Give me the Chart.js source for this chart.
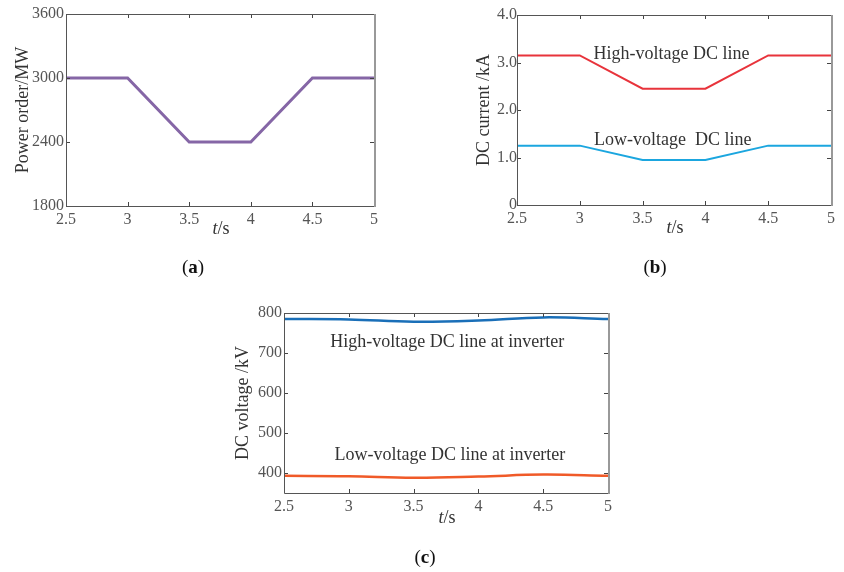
<!DOCTYPE html>
<html>
<head>
<meta charset="utf-8">
<script src="https://cdn.jsdelivr.net/npm/chart.js@4"></script>
<style>
  body { margin: 0; background: #fff; width: 844px; height: 572px; position: relative; overflow: hidden; }
  canvas { position: absolute; }
</style>
</head>
<body>
<canvas id="ca" width="420" height="290" style="left:0;top:0"></canvas>
<canvas id="cb" width="424" height="290" style="left:420px;top:0"></canvas>
<canvas id="cc" width="420" height="282" style="left:220px;top:290px"></canvas>
<script>
// time axis (s)
var times = [2.5, 3, 3.5, 4, 4.5, 5];
var xTicks = [2.5, 3, 3.5, 4, 4.5, 5];

// (a) power order, MW
var powerOrder = [3000, 3000, 2400, 2400, 3000, 3000];
var powerTicks = [1800, 2400, 3000, 3600];

// (b) DC current, kA
var currentHigh = [3.15, 3.15, 2.45, 2.45, 3.15, 3.15];
var currentLow = [1.25, 1.25, 0.95, 0.95, 1.25, 1.25];
var currentTicks = [0, 1, 2, 3, 4];

// (c) DC voltage at inverter, kV
var voltHigh = [785, 784, 778, 781, 789, 785];
var voltLow = [393, 392, 388, 391, 396, 393];
var voltTicks = [400, 500, 600, 700, 800];

var FONT = "'Liberation Serif', 'Times New Roman', serif";

function pts(ys) {
  return times.map(function (t, i) { return { x: t, y: ys[i] }; });
}

// box, inward tick marks, in-plot notes and captions
var framePlugin = {
  id: 'frame',
  afterDraw: function (chart, args, opts) {
    var c = chart.ctx, a = chart.chartArea, xs = chart.scales.x, ys = chart.scales.y;
    c.save();
    c.strokeStyle = '#444';
    c.lineWidth = 1;
    c.beginPath();
    xs.ticks.forEach(function (t) {
      var px = Math.round(xs.getPixelForValue(t.value)) + 0.5;
      c.moveTo(px, a.bottom); c.lineTo(px, a.bottom - 4);
      c.moveTo(px, a.top); c.lineTo(px, a.top + 4);
    });
    ys.ticks.forEach(function (t) {
      var py = Math.round(ys.getPixelForValue(t.value)) + 0.5;
      c.moveTo(a.left, py); c.lineTo(a.left + 4, py);
      c.moveTo(a.right, py); c.lineTo(a.right - 4, py);
    });
    c.stroke();
    c.strokeStyle = '#555';
    c.beginPath();
    c.moveTo(a.right, a.top + 0.5); c.lineTo(a.left + 0.5, a.top + 0.5);
    c.lineTo(a.left + 0.5, a.bottom + 0.5); c.lineTo(a.right, a.bottom + 0.5);
    c.stroke();
    c.strokeStyle = '#999';
    c.lineWidth = 2;
    c.beginPath();
    c.moveTo(a.right + 1, a.top); c.lineTo(a.right + 1, a.bottom + 1);
    c.stroke();

    c.fillStyle = '#333';
    c.textBaseline = 'middle';
    c.textAlign = 'center';
    c.font = '18px ' + FONT;
    (opts.notes || []).forEach(function (n) {
      c.fillText(n.text, xs.getPixelForValue(n.x), ys.getPixelForValue(n.y));
    });

    // x title "t/s" with italic t
    var cx = (a.left + a.right) / 2 + 1, cy = a.bottom + opts.tDY;
    c.textAlign = 'left';
    c.font = 'italic 18px ' + FONT;
    var w1 = c.measureText('t').width;
    c.font = '18px ' + FONT;
    var w2 = c.measureText('/s').width;
    var x0 = cx - (w1 + w2) / 2;
    c.font = 'italic 18px ' + FONT;
    c.fillText('t', x0, cy);
    c.font = '18px ' + FONT;
    c.fillText('/s', x0 + w1, cy);

    // caption "(a)" with bold letter
    c.fillStyle = '#111';
    c.font = '19px ' + FONT;
    var p1 = c.measureText('(').width;
    c.font = 'bold 19px ' + FONT;
    var p2 = c.measureText(opts.caption).width;
    c.font = '19px ' + FONT;
    var p3 = c.measureText(')').width;
    var x1 = opts.capX - (p1 + p2 + p3) / 2, y1 = a.bottom + opts.capDY;
    c.fillText('(', x1, y1);
    c.font = 'bold 19px ' + FONT;
    c.fillText(opts.caption, x1 + p1, y1);
    c.font = '19px ' + FONT;
    c.fillText(')', x1 + p1 + p2, y1);
    c.restore();
  }
};

function makeChart(id, cfg) {
  var tickFont = { family: FONT, size: 16 };
  return new Chart(document.getElementById(id).getContext('2d'), {
    type: 'line',
    data: { datasets: cfg.datasets },
    plugins: [framePlugin],
    options: {
      responsive: false,
      animation: false,
      layout: { padding: cfg.pad },
      elements: { point: { radius: 0 } },
      plugins: {
        legend: { display: false },
        tooltip: { enabled: false },
        frame: { notes: cfg.notes, caption: cfg.caption, capX: cfg.capX, capDY: cfg.capDY, tDY: cfg.tDY }
      },
      scales: {
        x: {
          type: 'linear', min: 2.5, max: 5,
          afterBuildTicks: function (s) { s.ticks = xTicks.map(function (v) { return { value: v }; }); },
          afterFit: function (s) { s.height = cfg.xHeight; },
          grid: { display: false, drawTicks: false },
          border: { display: false },
          ticks: { padding: 4, font: tickFont, color: '#555', maxRotation: 0, autoSkip: false,
                   callback: function (v) { return String(v); } }
        },
        y: {
          min: cfg.yMin, max: cfg.yMax,
          afterBuildTicks: function (s) { s.ticks = cfg.yTicks.map(function (v) { return { value: v }; }); },
          afterFit: function (s) { s.width = cfg.yWidth; },
          grid: { display: false, drawTicks: false },
          border: { display: false },
          ticks: { padding: cfg.yPad, font: tickFont, color: '#555', autoSkip: false, callback: cfg.fmt },
          title: { display: true, text: cfg.yTitle, color: '#333', padding: 0,
                   font: { family: FONT, size: 18 } }
        }
      }
    }
  });
}

makeChart('ca', {
  datasets: [{ data: pts(powerOrder), borderColor: '#8566a6', borderWidth: 3, tension: 0 }],
  yMin: 1800, yMax: 3600, yTicks: powerTicks,
  fmt: function (v) { return String(v); },
  yTitle: 'Power order/MW', yPad: 2,
  pad: { left: 12, top: 14, right: 46, bottom: 0 }, yWidth: 54, xHeight: 84,
  notes: [], caption: 'a', capX: 193, capDY: 62, tDY: 23
});

makeChart('cb', {
  datasets: [
    { data: pts(currentHigh), borderColor: '#e8333b', borderWidth: 2, tension: 0 },
    { data: pts(currentLow), borderColor: '#1ba6df', borderWidth: 2, tension: 0 }
  ],
  yMin: 0, yMax: 4, yTicks: currentTicks,
  fmt: function (v) { return v === 0 ? '0' : v.toFixed(1); },
  yTitle: 'DC current /kA', yPad: 0,
  pad: { left: 53, top: 15, right: 13, bottom: 0 }, yWidth: 44, xHeight: 85,
  notes: [
    { text: 'High-voltage DC line', x: 3.73, y: 3.17 },
    { text: 'Low-voltage  DC line', x: 3.74, y: 1.37 }
  ],
  caption: 'b', capX: 235, capDY: 63, tDY: 23
});

makeChart('cc', {
  datasets: [
    { data: pts(voltHigh), borderColor: '#1a6fb8', borderWidth: 2.5, tension: 0.4 },
    { data: pts(voltLow), borderColor: '#f05a28', borderWidth: 2.5, tension: 0.4 }
  ],
  yMin: 350, yMax: 800, yTicks: voltTicks,
  fmt: function (v) { return String(v); },
  yTitle: 'DC voltage /kV', yPad: 2,
  pad: { left: 12, top: 23, right: 32, bottom: 0 }, yWidth: 52, xHeight: 79,
  notes: [
    { text: 'High-voltage DC line at inverter', x: 3.76, y: 727 },
    { text: 'Low-voltage DC line at inverter', x: 3.78, y: 445 }
  ],
  caption: 'c', capX: 205, capDY: 65, tDY: 25
});
</script>
</body>
</html>
